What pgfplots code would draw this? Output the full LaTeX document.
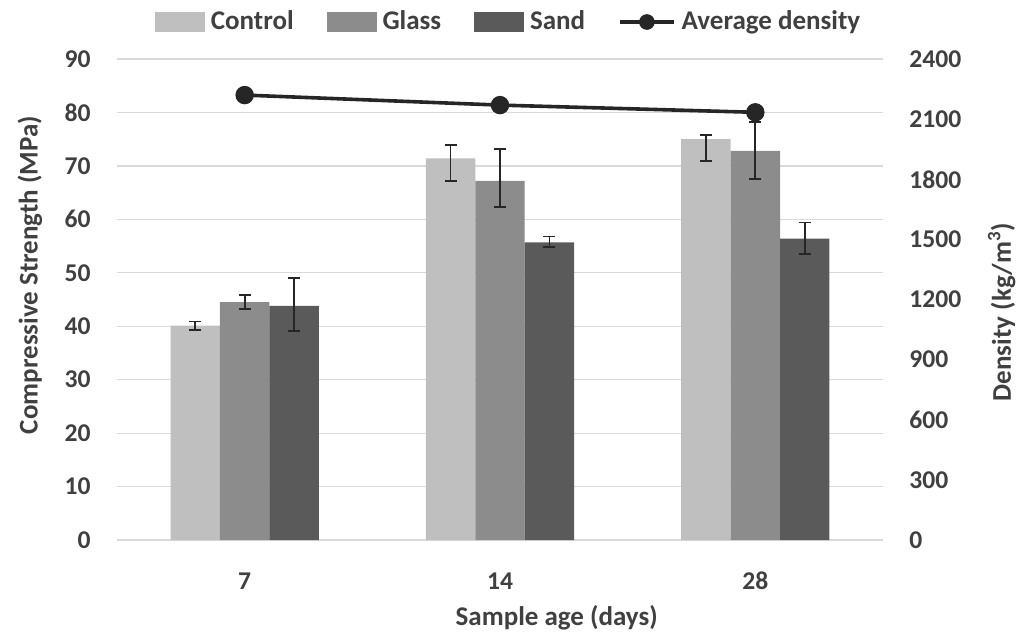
\documentclass[border=0pt]{standalone}
\usepackage{fontspec}
\setmainfont{Carlito}
\usepackage{pgfplots}
\usepackage{pgfplotstable}
\pgfplotsset{compat=1.18}

\definecolor{ctrl}{HTML}{BFBFBF}
\definecolor{glass}{HTML}{8C8C8C}
\definecolor{sand}{HTML}{5A5A5A}
\definecolor{txt}{HTML}{404040}
\definecolor{grd}{HTML}{D9D9D9}
\definecolor{dens}{HTML}{262626}

% age index, strength, error above, error below
\pgfplotstableread{
x  y     ep   em
0  40.1  0.8  0.8
1  71.4  2.5  4.2
2  75.0  0.8  4.1
}\control
\pgfplotstableread{
x  y     ep   em
0  44.5  1.3  1.3
1  67.2  6.0  4.9
2  72.8  5.4  5.3
}\glass
\pgfplotstableread{
x  y     ep   em
0  43.8  5.2  4.7
1  55.7  1.1  0.8
2  56.4  3.0  2.9
}\sand
\pgfplotstableread{
x  y
0  2220
1  2170
2  2134
}\density

\newcommand{\tickfont}{\bfseries\fontsize{12.8}{15}\selectfont}
\newcommand{\lblfont}{\bfseries\fontsize{13.5}{16}\selectfont}
\def\bw{0.1935}

\pgfplotsset{
  base/.style={
    scale only axis, width=383pt, height=240.5pt,
    xmin=-0.5, xmax=2.5,
    axis line style={draw=none},
    major tick length=0pt,
    /pgf/number format/assume math mode=true,
    /pgf/number format/1000 sep={},
    tick label style={font=\tickfont, text=txt},
  },
  bars/.style={
    ybar, bar width=\bw, bar shift=0pt, draw=none, forget plot,
    error bars/y dir=both, error bars/y explicit,
    error bars/error bar style={line width=0.9pt, dens},
    error bars/error mark options={rotate=90, mark size=3pt, line width=0.9pt, dens},
  },
}

\begin{document}
\begin{tikzpicture}
\useasboundingbox (-58.5pt,-47pt) rectangle (454pt,270pt);

\begin{axis}[base,
  ymin=0, ymax=90, ytick={0,10,...,90},
  ymajorgrids, grid style={grd, line width=0.6pt},
  xtick={0,1,2}, xticklabels={7,14,28},
  xticklabel style={anchor=center, yshift=-20.5pt},
  yticklabel style={anchor=east, inner sep=0pt, xshift=-13pt},
  xlabel={Sample age (days)},
  every axis x label/.style={at={(axis description cs:0.574,0)}, yshift=-39pt,
    anchor=center, font=\lblfont, text=txt},
  ylabel={Compressive Strength (MPa)},
  every axis y label/.style={at={(axis description cs:0,0.551)}, xshift=-43.5pt,
    rotate=90, anchor=center, font=\lblfont, text=txt},
  legend columns=-1,
  legend style={at={(axis description cs:0.51,1)}, anchor=center, yshift=18.5pt,
    draw=none, fill=none, font=\lblfont, text=txt,
    nodes={inner xsep=0pt},
    /tikz/every odd column/.append style={column sep=3pt},
    /tikz/every even column/.append style={column sep=16.5pt}},
]
\addplot[bars, fill=ctrl]
  table[x expr=\thisrow{x}-\bw, y=y, y error plus=ep, y error minus=em] {\control};
\addplot[bars, fill=glass]
  table[x=x, y=y, y error plus=ep, y error minus=em] {\glass};
\addplot[bars, fill=sand]
  table[x expr=\thisrow{x}+\bw, y=y, y error plus=ep, y error minus=em] {\sand};

\addlegendimage{legend image code/.code={\fill[ctrl] (0pt,-4.75pt) rectangle (24.5pt,4.75pt);}}
\addlegendentry{Control}
\addlegendimage{legend image code/.code={\fill[glass] (0pt,-4.75pt) rectangle (24.5pt,4.75pt);}}
\addlegendentry{Glass}
\addlegendimage{legend image code/.code={\fill[sand] (0pt,-4.75pt) rectangle (24.5pt,4.75pt);}}
\addlegendentry{Sand}
\addlegendimage{legend image code/.code={\draw[dens, line width=1.8pt] (0pt,0pt) -- (27pt,0pt); \fill[dens] (13.5pt,0pt) circle (3.7pt);}}
\addlegendentry{Average density}
\end{axis}

\begin{axis}[base,
  ymin=0, ymax=2400, ytick={0,300,...,2400},
  xtick=\empty,
  yticklabel pos=right,
  yticklabel style={anchor=west, inner sep=0pt, xshift=13pt},
  ylabel={Density (kg/m\textsuperscript{3})},
  every axis y label/.style={at={(axis description cs:1,0.474)}, xshift=59.4pt,
    rotate=90, anchor=center, font=\lblfont, text=txt},
]
\addplot[dens, line width=1.8pt, mark=*, mark size=3.7pt] table[x=x, y=y] {\density};
\end{axis}
\end{tikzpicture}
\end{document}
